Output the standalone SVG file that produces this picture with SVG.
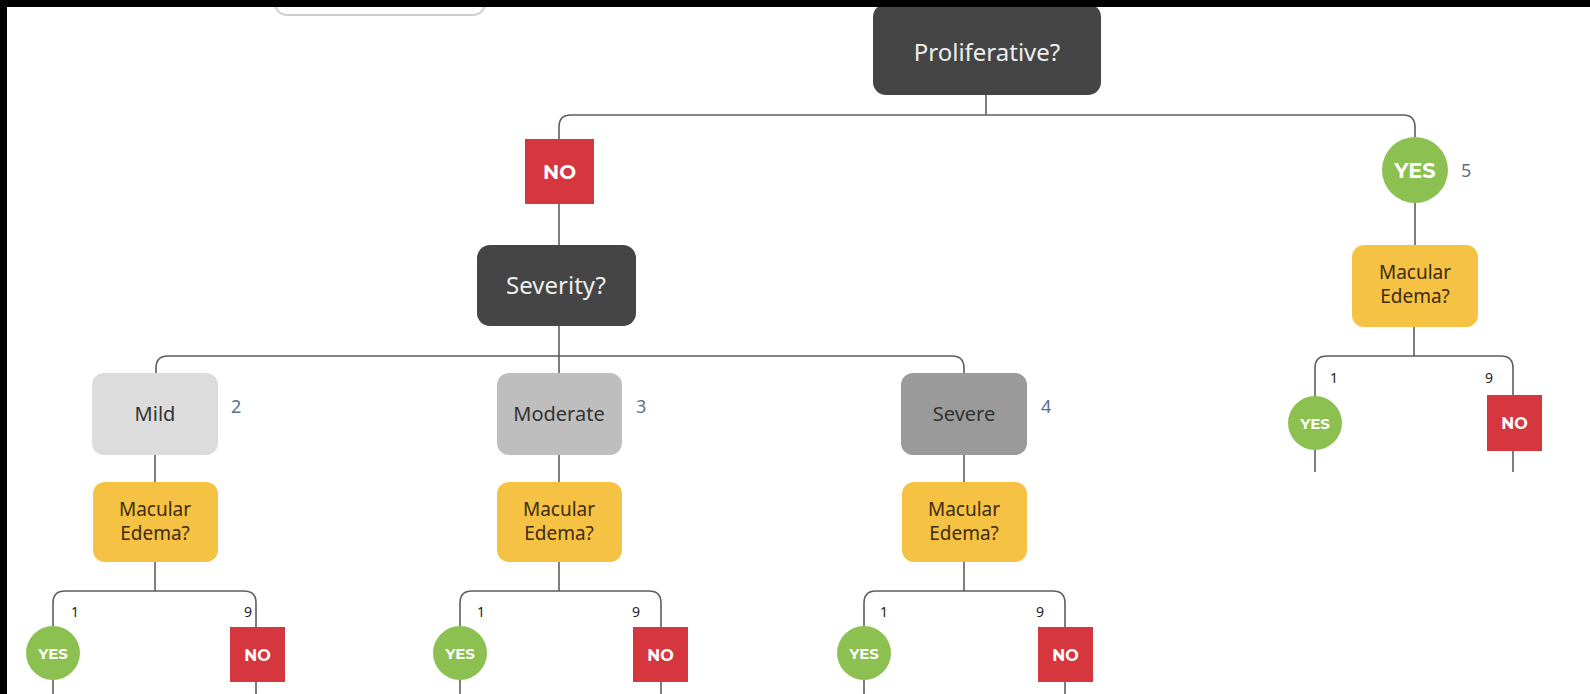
<svg xmlns="http://www.w3.org/2000/svg" width="1590" height="694" viewBox="0 0 1590 694">
  <style>
    .wire { fill: none; stroke: #5e5e5e; stroke-width: 1.6; }
    .q { fill: #454545; }
    .qt { font-family: "Noto Sans", "Open Sans", sans-serif; font-size: 24px; fill: #eeeeee; text-anchor: middle; }
    .mac { fill: #f6c244; }
    .mact { font-family: "Noto Sans", "Open Sans", sans-serif; font-size: 19px; fill: #3d2b10; text-anchor: middle; }
    .lvl { font-family: "Noto Sans", "Open Sans", sans-serif; font-size: 20px; fill: #333333; text-anchor: middle; }
    .no { fill: #d6363d; }
    .yes { fill: #8cc050; }
    .badge { font-family: "Montserrat", "Noto Sans", sans-serif; font-weight: bold; fill: #ffffff; text-anchor: middle; }
    .num { font-family: "Noto Sans", sans-serif; font-size: 18px; fill: #5b6f8c; }
    .sub { font-family: "Noto Sans", sans-serif; font-size: 14px; fill: #222222; text-anchor: middle; }
  </style>

  <rect width="1590" height="694" fill="#ffffff"/>

  <!-- partial box at the top edge -->
  <g id="top-box">
    <rect x="275" y="-30" width="210" height="45" rx="12" fill="#ffffff" stroke="#cfcfcf" stroke-width="2"/>
  </g>

  <!-- connectors -->
  <g id="connectors" class="wire">
    <path d="M986,95 V115"/>
    <path d="M559,139 V127 Q559,115 571,115 H1403 Q1415,115 1415,127 V137"/>
    <path d="M559,204 V245"/>
    <path d="M559,326 V373"/>
    <path d="M156,373 V368 Q156,356 168,356 H952 Q964,356 964,368 V373"/>
    <path d="M155,455 V482"/>
    <path d="M559,455 V482"/>
    <path d="M964,455 V482"/>
    <path d="M155,562 V591"/>
    <path d="M559,562 V591"/>
    <path d="M964,562 V591"/>
    <path d="M53,626 V603 Q53,591 65,591 H244 Q256,591 256,603 V627"/>
    <path d="M460,626 V603 Q460,591 472,591 H649 Q661,591 661,603 V627"/>
    <path d="M864,626 V603 Q864,591 876,591 H1053 Q1065,591 1065,603 V627"/>
    <path d="M53,680 V694"/>
    <path d="M256,682 V694"/>
    <path d="M460,680 V694"/>
    <path d="M661,682 V694"/>
    <path d="M864,680 V694"/>
    <path d="M1065,682 V694"/>
    <path d="M1415,203 V245"/>
    <path d="M1414,327 V356"/>
    <path d="M1315,396 V368 Q1315,356 1327,356 H1501 Q1513,356 1513,368 V395"/>
    <path d="M1315,450 V472"/>
    <path d="M1513,451 V472"/>
  </g>

  <!-- root question -->
  <g id="proliferative">
    <rect class="q" x="873" y="4" width="228" height="91" rx="13"/>
    <text class="qt" x="987" y="61">Proliferative?</text>
  </g>

  <!-- NO branch -->
  <g id="no-top">
    <rect class="no" x="525" y="139" width="69" height="65"/>
    <text class="badge" x="559.5" y="179" font-size="20">NO</text>
  </g>
  <g id="severity">
    <rect class="q" x="477" y="245" width="159" height="81" rx="13"/>
    <text class="qt" x="556" y="294">Severity?</text>
  </g>

  <!-- severity levels -->
  <g id="mild">
    <rect x="92" y="373" width="126" height="82" rx="12" fill="#dcdcdc"/>
    <text class="lvl" x="155" y="421">Mild</text>
    <text class="num" x="231" y="413">2</text>
  </g>
  <g id="moderate">
    <rect x="497" y="373" width="125" height="82" rx="12" fill="#bebebe"/>
    <text class="lvl" x="559" y="421">Moderate</text>
    <text class="num" x="636" y="413">3</text>
  </g>
  <g id="severe">
    <rect x="901" y="373" width="126" height="82" rx="12" fill="#9a9a9a"/>
    <text class="lvl" x="964" y="421">Severe</text>
    <text class="num" x="1041" y="413">4</text>
  </g>

  <!-- macular edema questions -->
  <g id="mac-mild">
    <rect class="mac" x="93" y="482" width="125" height="80" rx="12"/>
    <text class="mact" x="155" y="516">Macular</text>
    <text class="mact" x="155" y="540">Edema?</text>
  </g>
  <g id="mac-moderate">
    <rect class="mac" x="497" y="482" width="125" height="80" rx="12"/>
    <text class="mact" x="559" y="516">Macular</text>
    <text class="mact" x="559" y="540">Edema?</text>
  </g>
  <g id="mac-severe">
    <rect class="mac" x="902" y="482" width="125" height="80" rx="12"/>
    <text class="mact" x="964" y="516">Macular</text>
    <text class="mact" x="964" y="540">Edema?</text>
  </g>

  <!-- answers under each macular edema question -->
  <g id="mild-yes">
    <circle class="yes" cx="53" cy="653" r="27"/>
    <text class="badge" x="53" y="659" font-size="15">YES</text>
    <text class="sub" x="75" y="617">1</text>
  </g>
  <g id="mild-no">
    <rect class="no" x="230" y="627" width="55" height="55"/>
    <text class="badge" x="257.5" y="661" font-size="16">NO</text>
    <text class="sub" x="248" y="617">9</text>
  </g>
  <g id="moderate-yes">
    <circle class="yes" cx="460" cy="653" r="27"/>
    <text class="badge" x="460" y="659" font-size="15">YES</text>
    <text class="sub" x="481" y="617">1</text>
  </g>
  <g id="moderate-no">
    <rect class="no" x="633" y="627" width="55" height="55"/>
    <text class="badge" x="660.5" y="661" font-size="16">NO</text>
    <text class="sub" x="636" y="617">9</text>
  </g>
  <g id="severe-yes">
    <circle class="yes" cx="864" cy="653" r="27"/>
    <text class="badge" x="864" y="659" font-size="15">YES</text>
    <text class="sub" x="884" y="617">1</text>
  </g>
  <g id="severe-no">
    <rect class="no" x="1038" y="627" width="55" height="55"/>
    <text class="badge" x="1065.5" y="661" font-size="16">NO</text>
    <text class="sub" x="1040" y="617">9</text>
  </g>

  <!-- YES branch -->
  <g id="yes-top">
    <circle class="yes" cx="1415" cy="170" r="33"/>
    <text class="badge" x="1415" y="178" font-size="21">YES</text>
    <text class="num" x="1461" y="177">5</text>
  </g>
  <g id="mac-prolif">
    <rect class="mac" x="1352" y="245" width="126" height="82" rx="12"/>
    <text class="mact" x="1415" y="279">Macular</text>
    <text class="mact" x="1415" y="303">Edema?</text>
  </g>
  <g id="prolif-yes">
    <circle class="yes" cx="1315" cy="423" r="27"/>
    <text class="badge" x="1315" y="429" font-size="15">YES</text>
    <text class="sub" x="1334" y="383">1</text>
  </g>
  <g id="prolif-no">
    <rect class="no" x="1487" y="395" width="55" height="56"/>
    <text class="badge" x="1514.5" y="429" font-size="16">NO</text>
    <text class="sub" x="1489" y="383">9</text>
  </g>

  <!-- dark frame strips along the top and left edges -->
  <rect x="0" y="0" width="1590" height="7" fill="#000000"/>
  <rect x="0" y="0" width="7" height="694" fill="#000000"/>
</svg>
